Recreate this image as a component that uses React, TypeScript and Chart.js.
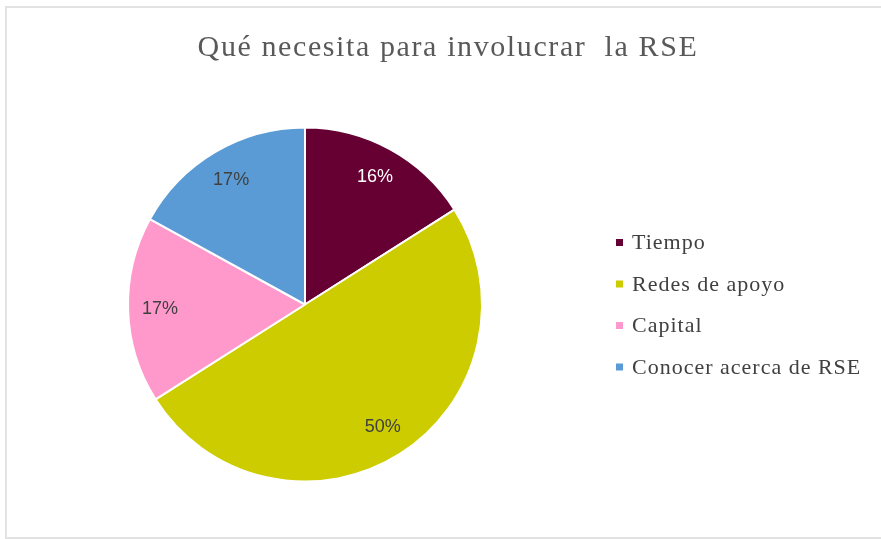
import React, { useEffect, useRef } from "react";
import { Chart, registerables } from "chart.js";

Chart.register(...registerables);

const TITLE = "Qué necesita para involucrar  la RSE";
const categories = ["Tiempo", "Redes de apoyo", "Capital", "Conocer acerca de RSE"];
const values = [16, 50, 17, 17];
const colors = ["#660033", "#CCCC00", "#FF99CC", "#5B9BD5"];
const labelColors = ["#FFFFFF", "#404040", "#404040", "#404040"];

const titlePlugin = {
  id: "excelTitle",
  afterDraw(chart: any) {
    const ctx = chart.ctx;
    ctx.save();
    (ctx as any).letterSpacing = "1.6px";
    ctx.font = "30px 'Liberation Serif'";
    ctx.fillStyle = "#595959";
    ctx.textAlign = "center";
    ctx.textBaseline = "alphabetic";
    ctx.fillText(TITLE, 448, 56);
    ctx.restore();
  },
};

const legendPlugin = {
  id: "excelLegend",
  afterDraw(chart: any) {
    const ctx = chart.ctx;
    const labels: string[] = chart.data.labels;
    const bg: string[] = chart.data.datasets[0].backgroundColor;
    ctx.save();
    (ctx as any).letterSpacing = "1px";
    ctx.font = "22px 'Liberation Serif'";
    ctx.textAlign = "left";
    ctx.textBaseline = "middle";
    labels.forEach((lab, i) => {
      const cy = 242.5 + i * 41.5;
      ctx.fillStyle = bg[i];
      ctx.fillRect(616, cy - 3.5, 7, 7);
      ctx.fillStyle = "#404040";
      ctx.fillText(lab, 632, cy + 1);
    });
    ctx.restore();
  },
};

const pctPlugin = {
  id: "pctLabels",
  afterDatasetsDraw(chart: any) {
    const ctx = chart.ctx;
    const meta = chart.getDatasetMeta(0);
    ctx.save();
    ctx.font = "18px 'Liberation Sans'";
    ctx.textAlign = "center";
    ctx.textBaseline = "middle";
    meta.data.forEach((arc: any, i: number) => {
      const p = arc.getProps(["x", "y", "startAngle", "endAngle", "outerRadius"], true);
      const mid = (p.startAngle + p.endAngle) / 2;
      const r = p.outerRadius * 0.82;
      ctx.fillStyle = labelColors[i];
      ctx.fillText(`${values[i]}%`, p.x + Math.cos(mid) * r, p.y + Math.sin(mid) * r);
    });
    ctx.restore();
  },
};

export default function App() {
  const ref = useRef<HTMLCanvasElement>(null);
  useEffect(() => {
    if (!ref.current) return;
    const chart = new Chart(ref.current, {
      type: "pie",
      data: {
        labels: categories,
        datasets: [
          {
            data: values,
            backgroundColor: colors,
            borderColor: "#FFFFFF",
            borderWidth: 2,
          },
        ],
      },
      options: {
        responsive: false,
        animation: false,
        layout: { padding: { left: 127, right: 398, top: 126, bottom: 56 } },
        plugins: {
          legend: { display: false },
          title: { display: false },
          tooltip: { enabled: false },
        },
      },
      plugins: [pctPlugin, titlePlugin, legendPlugin],
    });
    return () => chart.destroy();
  }, []);
  return (
    <div style={{ position: "fixed", left: 0, top: 0, width: 881, height: 539, background: "#fff", overflow: "hidden" }}>
      <div
        style={{
          position: "absolute",
          left: 5,
          top: 6,
          width: 890,
          height: 529,
          border: "2px solid #e2e2e2",
        }}
      />
      <canvas ref={ref} width={881} height={539} style={{ position: "absolute", left: 0, top: 0, display: "block" }} />
    </div>
  );
}
